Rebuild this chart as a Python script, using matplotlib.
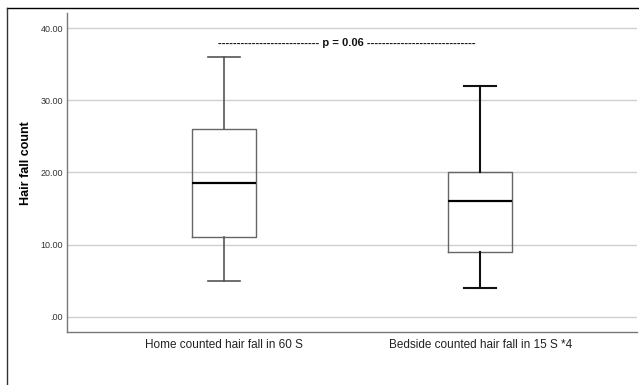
import matplotlib.pyplot as plt
from matplotlib.lines import Line2D

groups = ['Home counted hair fall in 60 S', 'Bedside counted hair fall in 15 S *4']
whislo = [5, 4]
q1 = [11, 9]
med = [18.5, 16]
q3 = [26, 20]
whishi = [36, 32]
yticks = [0, 10, 20, 30, 40]
ytick_labels = ['.00', '10.00', '20.00', '30.00', '40.00']
p_text = '-' * 27 + ' p = 0.06 ' + '-' * 29
p_y = 37.9

plt.rcParams['font.family'] = ['Liberation Sans', 'DejaVu Sans']

fig = plt.figure(figsize=(6.39, 3.85), dpi=100)
ax = fig.add_axes([67/639, 1-332/385, 570/639, 319/385])

stats = []
for i in range(len(groups)):
    stats.append(dict(whislo=whislo[i], q1=q1[i], med=med[i], q3=q3[i],
                      whishi=whishi[i], fliers=[], label=groups[i]))

# first box drawn in grey, second with darker whiskers (as in the original)
whisk_cols = ['#555555', '#111111']
whisk_lw = [1.2, 1.5]
for i in range(len(groups)):
    ax.bxp([stats[i]], positions=[i + 1], widths=0.25, capwidths=0.125,
           showfliers=False, patch_artist=False,
           boxprops=dict(color='#666666', linewidth=1.0),
           medianprops=dict(color='black', linewidth=1.6),
           whiskerprops=dict(color=whisk_cols[i], linewidth=whisk_lw[i]),
           capprops=dict(color=whisk_cols[i], linewidth=whisk_lw[i]),
           zorder=3)

ax.set_xlim(0.39, 2.61)
ax.set_ylim(-2.1, 42.1)
ax.set_xticks([1, 2])
ax.set_xticklabels(groups, fontsize=8.5, color='#222222')
ax.set_yticks(yticks)
ax.set_yticklabels(ytick_labels, fontsize=6.5, color='#333333')
ax.tick_params(length=0)
ax.tick_params(axis='y', pad=3)
ax.tick_params(axis='x', pad=5)
ax.grid(axis='y', color='#d0d0d0', linewidth=1.0, zorder=0)
ax.set_axisbelow(True)
for s in ['top', 'right']:
    ax.spines[s].set_visible(False)
for s in ['left', 'bottom']:
    ax.spines[s].set_color('#777777')
    ax.spines[s].set_linewidth(1.0)

ax.set_ylabel('Hair fall count', fontsize=9, fontweight='bold')
ax.yaxis.set_label_coords(-0.062, 0.53)

ax.text(1.48, p_y, p_text, ha='center', va='center', fontsize=8,
        fontweight='bold', color='#111111')

# outer frame lines
fig.add_artist(Line2D([7/639, 1], [1-8/385, 1-8/385], color='black', lw=1.0))
fig.add_artist(Line2D([7/639, 7/639], [0, 1-8/385], color='#333333', lw=1.0))

fig.savefig('out.png', dpi=100)
